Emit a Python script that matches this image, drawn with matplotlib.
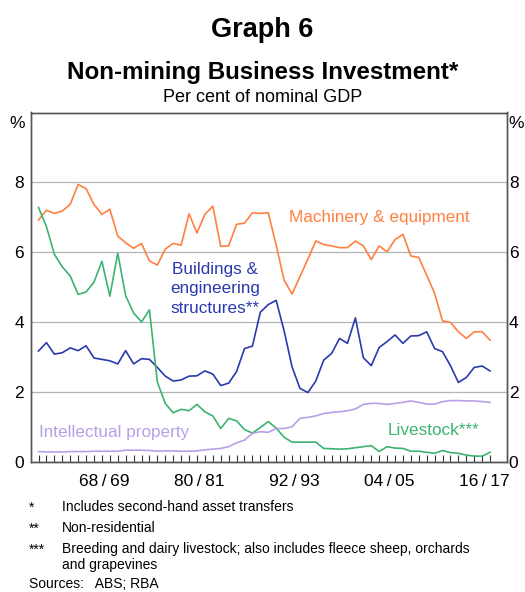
import numpy as np
import matplotlib
matplotlib.use("Agg")
import matplotlib.pyplot as plt

plt.rcParams['font.family'] = ['Liberation Sans', 'DejaVu Sans']

# financial years, 1960/61 .. 2017/18 (start year)
years = np.arange(1960, 2018)

machinery = [6.92, 7.20, 7.11, 7.18, 7.37, 7.94, 7.82, 7.37, 7.08, 7.23,
             6.46, 6.27, 6.11, 6.25, 5.75, 5.63, 6.09, 6.25, 6.20, 7.10,
             6.55, 7.08, 7.32, 6.17, 6.18, 6.80, 6.83, 7.13, 7.11, 7.13,
             6.20, 5.20, 4.80, 5.30, 5.80, 6.32, 6.22, 6.18, 6.13, 6.13,
             6.32, 6.18, 5.79, 6.18, 6.01, 6.36, 6.51, 5.89, 5.85, 5.34,
             4.82, 4.03, 3.99, 3.72, 3.53, 3.72, 3.72, 3.48]

buildings = [3.17, 3.41, 3.08, 3.12, 3.26, 3.18, 3.32, 2.97, 2.93, 2.89,
             2.80, 3.18, 2.80, 2.95, 2.93, 2.70, 2.45, 2.31, 2.34, 2.45,
             2.46, 2.60, 2.51, 2.18, 2.25, 2.58, 3.24, 3.31, 4.28, 4.50,
             4.62, 3.75, 2.72, 2.10, 1.98, 2.31, 2.91, 3.10, 3.53, 3.39,
             4.12, 2.98, 2.75, 3.27, 3.44, 3.63, 3.39, 3.60, 3.61, 3.72,
             3.24, 3.15, 2.75, 2.27, 2.41, 2.70, 2.74, 2.60]

livestock = [7.28, 6.73, 5.94, 5.58, 5.32, 4.79, 4.86, 5.14, 5.74, 4.74,
             5.97, 4.75, 4.26, 4.00, 4.35, 2.28, 1.67, 1.40, 1.50, 1.46,
             1.64, 1.43, 1.31, 0.95, 1.24, 1.17, 0.92, 0.82, 0.98, 1.15,
             0.96, 0.70, 0.56, 0.56, 0.56, 0.56, 0.38, 0.37, 0.36, 0.37,
             0.40, 0.43, 0.46, 0.29, 0.43, 0.39, 0.38, 0.30, 0.30, 0.27,
             0.24, 0.32, 0.26, 0.24, 0.19, 0.16, 0.16, 0.27]

intellectual = [0.29, 0.28, 0.28, 0.28, 0.29, 0.29, 0.29, 0.30, 0.30, 0.30,
                0.30, 0.33, 0.33, 0.33, 0.32, 0.30, 0.31, 0.31, 0.30, 0.30,
                0.31, 0.34, 0.36, 0.38, 0.43, 0.54, 0.62, 0.81, 0.86, 0.84,
                0.95, 0.95, 1.00, 1.24, 1.27, 1.31, 1.38, 1.41, 1.43, 1.46,
                1.51, 1.64, 1.67, 1.67, 1.64, 1.67, 1.70, 1.74, 1.70, 1.65,
                1.65, 1.72, 1.75, 1.75, 1.74, 1.74, 1.72, 1.70]

label_years = [1968, 1980, 1992, 2004, 2016]
label_text = ['68\u2009/\u200969', '80\u2009/\u200981', '92\u2009/\u200993',
              '04\u2009/\u200905', '16\u2009/\u200917']
yvals = [0, 2, 4, 6, 8]

c_orange = '#ff8040'
c_blue = '#2a3aae'
c_green = '#3cb371'
c_purple = '#b7a0e6'

fig = plt.figure(figsize=(5.25, 5.92), dpi=100)
ax = fig.add_axes([31 / 525, 1 - 461.7 / 592, 475.7 / 525, 349.2 / 592])

ax.plot(years, machinery, color=c_orange, lw=1.2)
ax.plot(years, buildings, color=c_blue, lw=1.2)
ax.plot(years, livestock, color=c_green, lw=1.2)
ax.plot(years, intellectual, color=c_purple, lw=1.2)

ax.set_xlim(1960 - 0.95, 1960 + 59.1)
ax.set_ylim(0, 10)

# y axis: labels both sides (right one via twin axis), grid
ax.set_yticks(yvals)
ax.set_yticklabels([str(v) for v in yvals])
ax.tick_params(axis='y', length=0, labelsize=12.5, pad=5)
ax.grid(axis='y', color='#b4b4b4', lw=0.9)
ax.set_axisbelow(True)

ax2 = ax.twinx()
ax2.set_ylim(0, 10)
ax2.set_yticks(yvals)
ax2.set_yticklabels([str(v) for v in yvals])
ax2.tick_params(axis='y', length=0, labelsize=12.5, pad=1.5)

# x axis: minor ticks each year, labels for selected years
ax.set_xticks(years, minor=True)
ax.set_xticks([y + 0.3 for y in label_years])
ax.set_xticklabels(label_text)
ax.tick_params(axis='x', which='minor', direction='in', length=5,
               width=0.8, color='#333333')
ax.tick_params(axis='x', which='major', length=0, labelsize=12.5, pad=9)

for a in (ax, ax2):
    for s in a.spines.values():
        s.set_color('#555555')
        s.set_linewidth(1.0)

ax.text(-0.012, 0.99, '%', transform=ax.transAxes, ha='right', va='top',
        fontsize=12.5)
ax.text(1.003, 0.99, '%', transform=ax.transAxes, ha='left', va='top',
        fontsize=12.5)

# series labels
ax.text(2003, 6.98, 'Machinery & equipment', color=c_orange, fontsize=12.3,
        ha='center', va='center')
ax.text(1982.3, 4.95, 'Buildings &\nengineering\nstructures**', color=c_blue,
        fontsize=12.3, ha='center', va='center', multialignment='center',
        linespacing=1.35)
ax.text(1969.6, 0.85, 'Intellectual property', color=c_purple, fontsize=12.3,
        ha='center', va='center')
ax.text(2009.9, 0.88, 'Livestock***', color=c_green, fontsize=12.3,
        ha='center', va='center')

# titles
fig.text(0.5, 1 - 30 / 592, 'Graph 6', fontsize=19.5, fontweight='bold',
         ha='center', va='center')
fig.text(0.5, 1 - 73 / 592, 'Non-mining Business Investment*', fontsize=17.4,
         fontweight='bold', ha='center', va='center')
fig.text(0.5, 1 - 98 / 592, 'Per cent of nominal GDP', fontsize=13,
         ha='center', va='center')

# footnotes
notes = [('*', 'Includes second-hand asset transfers', 508),
         ('**', 'Non-residential', 529),
         ('***', 'Breeding and dairy livestock; also includes fleece sheep, orchards\nand grapevines', 550)]
for sym, txt, ypix in notes:
    fig.text(29 / 525, 1 - ypix / 592, sym, fontsize=10, ha='left',
             va='center')
    fig.text(62 / 525, 1 - (ypix - 8) / 592, txt, fontsize=10, ha='left',
             va='top', linespacing=1.2)
fig.text(29 / 525, 1 - 584 / 592, 'Sources:   ABS; RBA', fontsize=10,
         ha='left', va='center')

fig.savefig('out.png', dpi=100)
